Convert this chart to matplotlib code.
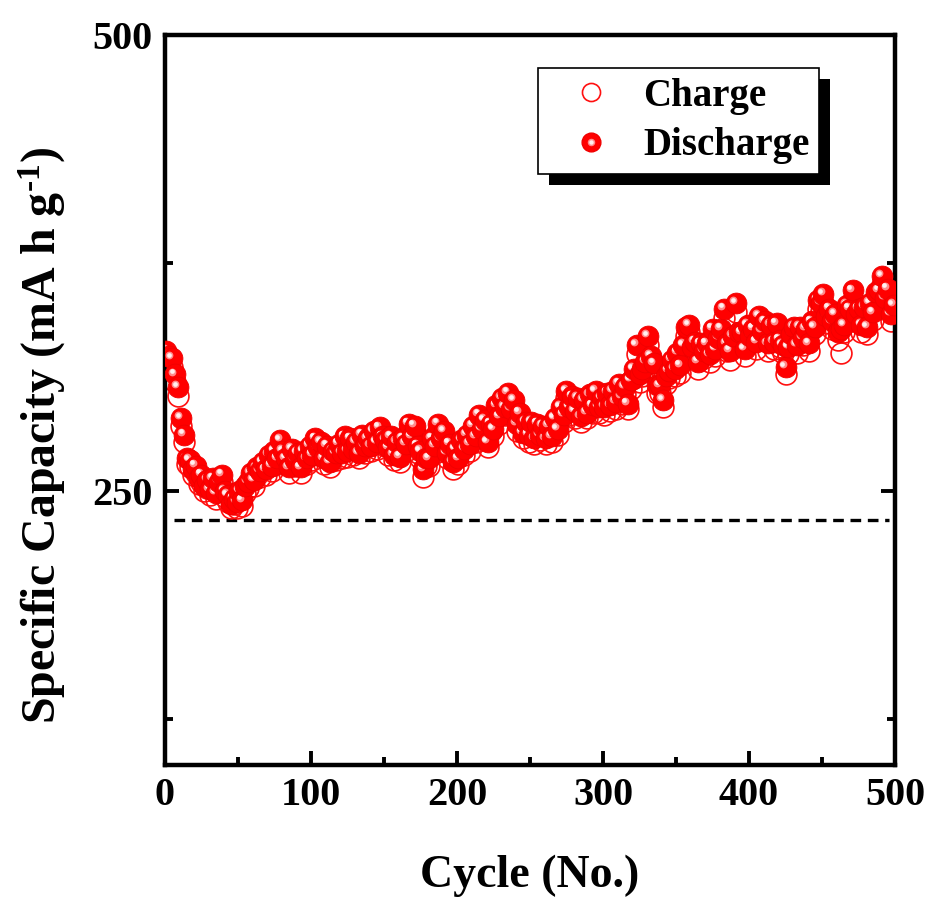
import numpy as np
import matplotlib
matplotlib.use("Agg")
import matplotlib.pyplot as plt
from matplotlib.lines import Line2D
from matplotlib.patches import Rectangle
from matplotlib.transforms import offset_copy
from matplotlib.legend_handler import HandlerTuple

plt.rcParams['font.family'] = 'Liberation Serif'
plt.rcParams['font.weight'] = 'bold'
plt.rcParams['mathtext.fontset'] = 'custom'
plt.rcParams['mathtext.rm'] = 'Liberation Serif:bold'
plt.rcParams['mathtext.bf'] = 'Liberation Serif:bold'
plt.rcParams['mathtext.default'] = 'rm'

# cycle numbers (every second cycle)
cycles = list(range(1, 500, 2))

discharge = [
    327, 324, 323, 314, 307, 290, 281, 268, 267, 262,
    264, 257, 259, 253, 256, 251, 257, 249, 255, 259,
    250, 248, 243, 246, 244, 250, 245, 253, 255, 260,
    256, 263, 261, 266, 262, 270, 264, 272, 268, 278,
    272, 268, 263, 273, 267, 271, 263, 272, 268, 275,
    270, 279, 274, 277, 268, 275, 266, 272, 271, 276,
    271, 280, 272, 279, 273, 277, 271, 281, 275, 279,
    275, 283, 277, 285, 280, 278, 274, 280, 270, 277,
    269, 279, 276, 287, 280, 286, 275, 272, 262, 268,
    268, 279, 275, 287, 279, 283, 271, 276, 266, 273,
    268, 278, 273, 281, 276, 286, 280, 292, 284, 289,
    277, 287, 284, 297, 291, 301, 296, 304, 295, 300,
    287, 293, 282, 288, 281, 288, 279, 287, 281, 286,
    279, 286, 280, 290, 284, 296, 292, 305, 296, 302,
    294, 301, 291, 300, 293, 303, 297, 305, 296, 301,
    296, 304, 297, 305, 299, 309, 302, 307, 298, 311,
    317, 330, 314, 317, 321, 335, 324, 320, 308, 308,
    300, 313, 316, 322, 317, 326, 319, 330, 340, 341,
    329, 332, 321, 331, 327, 331, 325, 339, 328, 334,
    339, 350, 331, 327, 335, 353, 337, 337, 328, 341,
    335, 339, 332, 346, 338, 343, 331, 341, 332, 342,
    333, 330, 318, 329, 336, 340, 330, 340, 334, 339,
    331, 343, 340, 355, 353, 358, 346, 350, 343, 347,
    337, 339, 341, 352, 350, 360, 347, 350, 341, 351,
    340, 353, 348, 359, 360, 368, 356, 361, 347, 352]

charge = [
    321, 320, 318, 310, 302, 286, 277, 265, 263, 259,
    260, 254, 255, 250, 252, 248, 253, 246, 251, 255,
    247, 244, 241, 243, 241, 246, 242, 249, 252, 256,
    253, 259, 258, 262, 259, 266, 261, 268, 265, 274,
    268, 265, 260, 269, 264, 267, 260, 268, 265, 271,
    267, 275, 270, 273, 265, 271, 263, 269, 267, 272,
    268, 276, 269, 275, 270, 273, 268, 277, 271, 275,
    272, 279, 273, 281, 276, 275, 270, 276, 267, 273,
    266, 275, 272, 283, 277, 282, 271, 268, 258, 264,
    264, 275, 271, 283, 276, 279, 268, 272, 262, 269,
    265, 274, 270, 277, 272, 282, 277, 288, 280, 285,
    274, 283, 280, 293, 287, 297, 292, 300, 292, 296,
    283, 289, 279, 284, 277, 284, 276, 283, 278, 282,
    276, 282, 277, 286, 281, 292, 288, 301, 292, 298,
    290, 297, 288, 296, 290, 299, 293, 301, 293, 297,
    292, 300, 294, 301, 295, 305, 298, 303, 295, 306,
    312, 325, 310, 313, 317, 330, 320, 316, 304, 304,
    296, 309, 312, 318, 313, 322, 315, 326, 335, 337,
    325, 328, 317, 327, 323, 327, 321, 334, 324, 330,
    334, 345, 327, 322, 331, 348, 333, 333, 324, 337,
    331, 335, 328, 341, 334, 339, 327, 337, 328, 338,
    329, 326, 314, 325, 332, 336, 326, 336, 330, 335,
    327, 339, 336, 350, 349, 353, 342, 346, 339, 343,
    333, 326, 337, 348, 346, 355, 343, 346, 337, 347,
    336, 349, 344, 354, 356, 363, 352, 357, 343, 348]

ref_capacity = 234

fig = plt.figure(figsize=(9.33, 8.97), dpi=100)
ax = fig.add_axes([0.1768, 0.1472, 0.7825, 0.8138])

ms = 15
# charge: open circles
ax.plot(cycles, charge, 'o', ls='none', ms=ms, mfc='none', mec='#ff1010', mew=1.2, zorder=2)

# discharge: shaded balls, drawn point by point so the highlight stays on top of its own ball
hl1 = offset_copy(ax.transData, fig=fig, x=-2.0, y=2.0, units='points')
hl2 = offset_copy(ax.transData, fig=fig, x=-2.4, y=2.4, units='points')
for x, y in zip(cycles, discharge):
    ax.plot([x], [y], 'o', ms=ms, mfc='#ff0000', mec='#f00000', mew=0.6, zorder=3)
    ax.plot([x], [y], 'o', ms=5.6, mfc='#ff8c8c', mec='none', zorder=3, transform=hl1)
    ax.plot([x], [y], 'o', ms=3.4, mfc='#fff0f0', mec='none', zorder=3, transform=hl2)

ax.axhline(ref_capacity, color='black', lw=2.4, ls=(0, (3.2, 2.0)), xmin=0.012, xmax=0.992, zorder=1)

ax.set_xlim(0, 500)
ax.set_ylim(100, 500)
ax.set_xticks([0, 100, 200, 300, 400, 500])
ax.set_xticks([50, 150, 250, 350, 450], minor=True)
ax.set_yticks([250, 500])
ax.set_yticks([125, 375], minor=True)

for s in ax.spines.values():
    s.set_linewidth(3.2)
ax.tick_params(which='both', direction='in', top=False, right=True, width=2.8)
ax.tick_params(which='major', length=10, labelsize=29, pad=9)
ax.tick_params(which='minor', length=5.5)
for lab in ax.get_xticklabels() + ax.get_yticklabels():
    lab.set_fontweight('bold')

ax.set_xlabel('Cycle (No.)', fontsize=33, fontweight='bold', labelpad=29)
ax.set_ylabel(r'Specific Capacity (mA h g$^{\text{-1}}$)', fontsize=34.5, fontweight='bold')
ax.yaxis.set_label_coords(-0.133, 0.452)

# legend
h_charge = Line2D([], [], ls='none', marker='o', ms=13, mfc='none', mec='#ff1010', mew=1.2)
h_ball = Line2D([], [], ls='none', marker='o', ms=13.5, mfc='#ff0000', mec='#f00000')
h_hl1 = Line2D([], [], ls='none', marker='o', ms=5.4, mfc='#ff8c8c', mec='none')
h_hl2 = Line2D([], [], ls='none', marker='o', ms=3.2, mfc='#fff0f0', mec='none')
leg = ax.legend([h_charge, (h_ball, h_hl1, h_hl2)], ['Charge', 'Discharge'],
                handler_map={tuple: HandlerTuple(ndivide=1, pad=0)},
                loc='upper left', bbox_to_anchor=(0.511, 0.955), borderaxespad=0,
                prop={'family': 'Liberation Serif', 'weight': 'bold', 'size': 28},
                frameon=True, fancybox=False, edgecolor='black', framealpha=1,
                borderpad=0.25, handletextpad=0.25, labelspacing=0.33, handlelength=2.2)
leg.get_frame().set_linewidth(1.2)
leg.set_zorder(6)

fig.canvas.draw()
bb = leg.get_frame().get_window_extent().transformed(ax.transAxes.inverted())
dx = 11 / (ax.bbox.width)
dy = 11 / (ax.bbox.height)
shadow = Rectangle((bb.x0 + dx, bb.y0 - dy), bb.width, bb.height, transform=ax.transAxes,
                   facecolor='black', edgecolor='none', zorder=5, clip_on=False)
ax.add_patch(shadow)

fig.savefig('out.png', dpi=100)
